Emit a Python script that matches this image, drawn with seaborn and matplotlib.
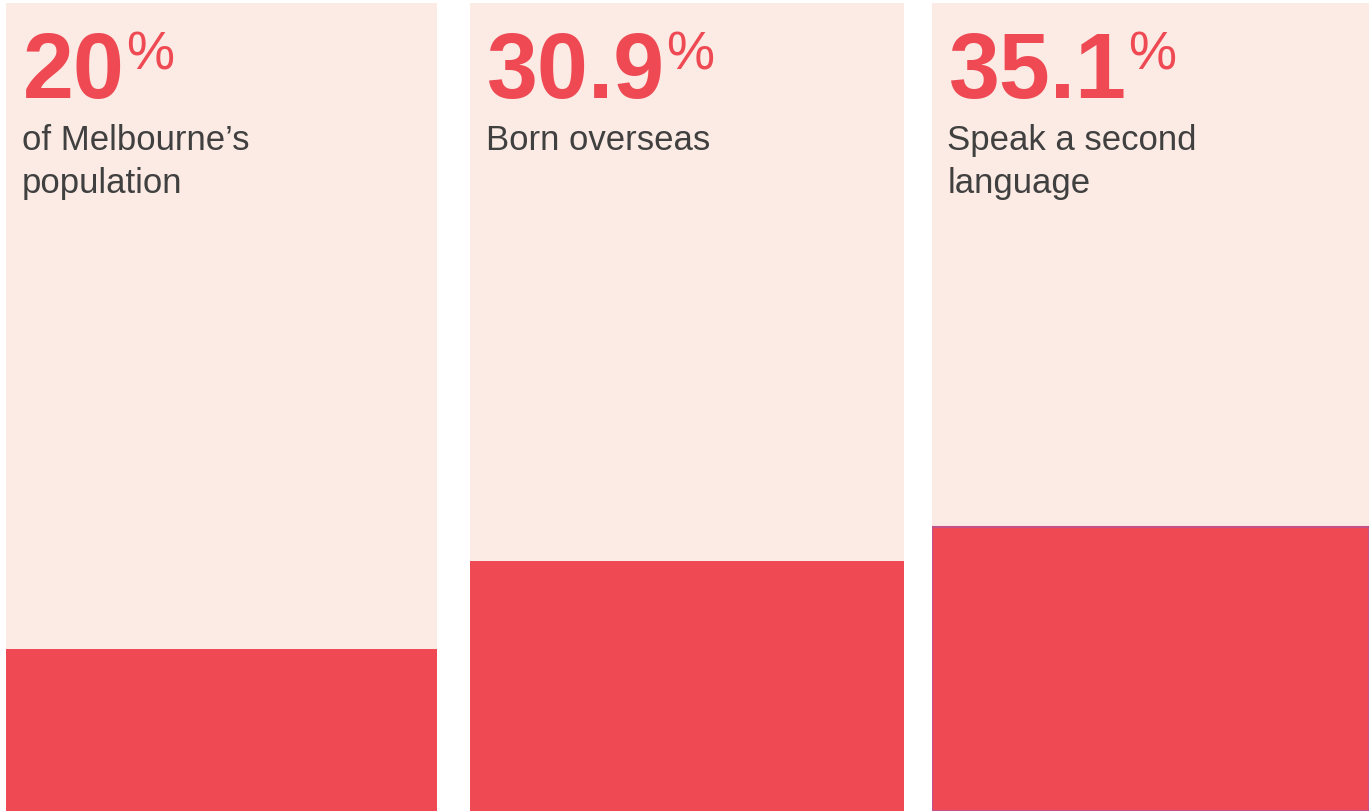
import matplotlib
matplotlib.use("Agg")
import matplotlib.pyplot as plt
import seaborn as sns
import pandas as pd

# Data
numbers = ["20", "30.9", "35.1"]
values = [20.0, 30.9, 35.1]
labels = ["of Melbourne\u2019s\npopulation", "Born overseas", "Speak a second\nlanguage"]

BG = "#FCEBE4"
RED = "#EF4A54"
TXT = "#404040"

sns.set_theme(style="white")
plt.rcParams["font.family"] = ["Liberation Sans", "DejaVu Sans"]

W, H = 1372, 811
fig = plt.figure(figsize=(W / 100, H / 100), dpi=100)
fig.patch.set_facecolor("white")

panels = [(6, 431), (470, 434), (932, 437)]
top = 3
ax_h = H - top

for i, ((left, width), num, val, lab) in enumerate(zip(panels, numbers, values, labels)):
    ax = fig.add_axes([left / W, 0, width / W, ax_h / H])
    ax.set_facecolor(BG)
    df = pd.DataFrame({"cat": [lab], "value": [val]})
    edge = "#C4528A" if i == 2 else RED
    lw = 1.5 if i == 2 else 0
    sns.barplot(data=df, x="cat", y="value", ax=ax, color=RED, width=1.0,
                saturation=1, edgecolor=edge, linewidth=lw)
    ax.set_xlim(-0.5, 0.5)
    ax.set_ylim(0, 100)
    ax.set_xticks([])
    ax.set_yticks([])
    ax.set_xlabel("")
    ax.set_ylabel("")
    for s in ax.spines.values():
        s.set_visible(False)

    xoff = 17 / width
    t = ax.text(xoff, 1 - 95 / ax_h, num, transform=ax.transAxes,
                fontsize=66, fontweight="bold", color=RED,
                ha="left", va="baseline")
    ax.annotate("%", xy=(1, 1 - 28 / ax_h), xycoords=(t, "axes fraction"),
                xytext=(1.0, 0), textcoords="offset points", fontsize=39,
                color=RED, ha="left", va="top")
    for k, line in enumerate(lab.split("\n")):
        ax.text(xoff - 1.5 / width, 1 - (147 + 43 * k) / ax_h, line,
                transform=ax.transAxes, fontsize=25, color=TXT,
                ha="left", va="baseline")

fig.savefig("out.png", dpi=100, facecolor="white")
